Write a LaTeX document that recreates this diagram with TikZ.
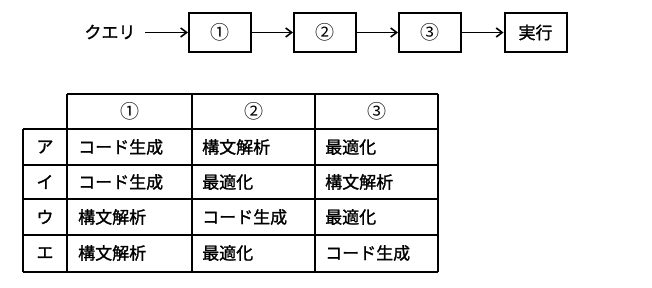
\documentclass[tikz,border=0pt]{standalone}
\usepackage{fontspec}
\setmainfont{Noto Sans CJK JP}[BoldFont=Noto Sans CJK JP, BoldFeatures={FakeBold=1.3}]
\usetikzlibrary{arrows.meta}
\begin{document}
\begin{tikzpicture}[x=1pt,y=-1pt,
  every node/.style={font=\fontsize{17}{19}\selectfont\bfseries, inner sep=0pt},
  stepbox/.style={draw, line width=2pt, minimum width=62pt, minimum height=39pt},
  flow/.style={-{Straight Barb[length=6pt,width=9pt,line width=1.6pt]}, line width=1.8pt},
  grid/.style={line width=2pt},
  cell/.style={anchor=west},
  head/.style={anchor=center},
  circ/.style={font=\fontsize{19}{21}\selectfont\mdseries}]
\useasboundingbox (0,0) rectangle (652,288);
% flow
\node (q) at (110,32) {クエリ};
\node[stepbox,circ] (b1) at (220,32.5) {①};
\node[stepbox,circ] (b2) at (325,32.5) {②};
\node[stepbox,circ] (b3) at (430,32.5) {③};
\node[stepbox] (b4) at (535.5,32.5) {実行};
\coordinate (qs) at (145,32.5);
\draw[flow] (qs) -- (b1.west);
\draw[flow] (b1) -- (b2);
\draw[flow] (b2) -- (b3);
\draw[flow] (b3) -- (b4);
% table grid
\draw[grid] (67,94) -- (438,94);
\draw[grid] (23,129) -- (438,129);
\draw[grid] (23,165) -- (438,165);
\draw[grid] (23,199) -- (438,199);
\draw[grid] (23,235) -- (438,235);
\draw[grid] (23,271.5) -- (438,271.5);
\draw[grid] (23,129) -- (23,271.5);
\draw[grid] (67,94) -- (67,271.5);
\draw[grid] (192,94) -- (192,271.5);
\draw[grid] (315,94) -- (315,271.5);
\draw[grid] (438,94) -- (438,271.5);
% header
\node[head,circ] (h1) at (129.5,111.5) {①};
\node[head,circ] (h2) at (253.5,111.5) {②};
\node[head,circ] (h3) at (376.5,111.5) {③};
% row labels
\node[head] (ra) at (45,147) {ア};
\node[head] (ri) at (45,182) {イ};
\node[head] (ru) at (45,217) {ウ};
\node[head] (re) at (45,253) {エ};
% cells
\node[cell] (a1) at (78,147) {コード生成};
\node[cell] (a2) at (202,147) {構文解析};
\node[cell] (a3) at (325,147) {最適化};
\node[cell] (i1) at (78,182) {コード生成};
\node[cell] (i2) at (202,182) {最適化};
\node[cell] (i3) at (325,182) {構文解析};
\node[cell] (u1) at (78,217) {構文解析};
\node[cell] (u2) at (202,217) {コード生成};
\node[cell] (u3) at (325,217) {最適化};
\node[cell] (e1) at (78,253) {構文解析};
\node[cell] (e2) at (202,253) {最適化};
\node[cell] (e3) at (325,253) {コード生成};
\end{tikzpicture}
\end{document}
